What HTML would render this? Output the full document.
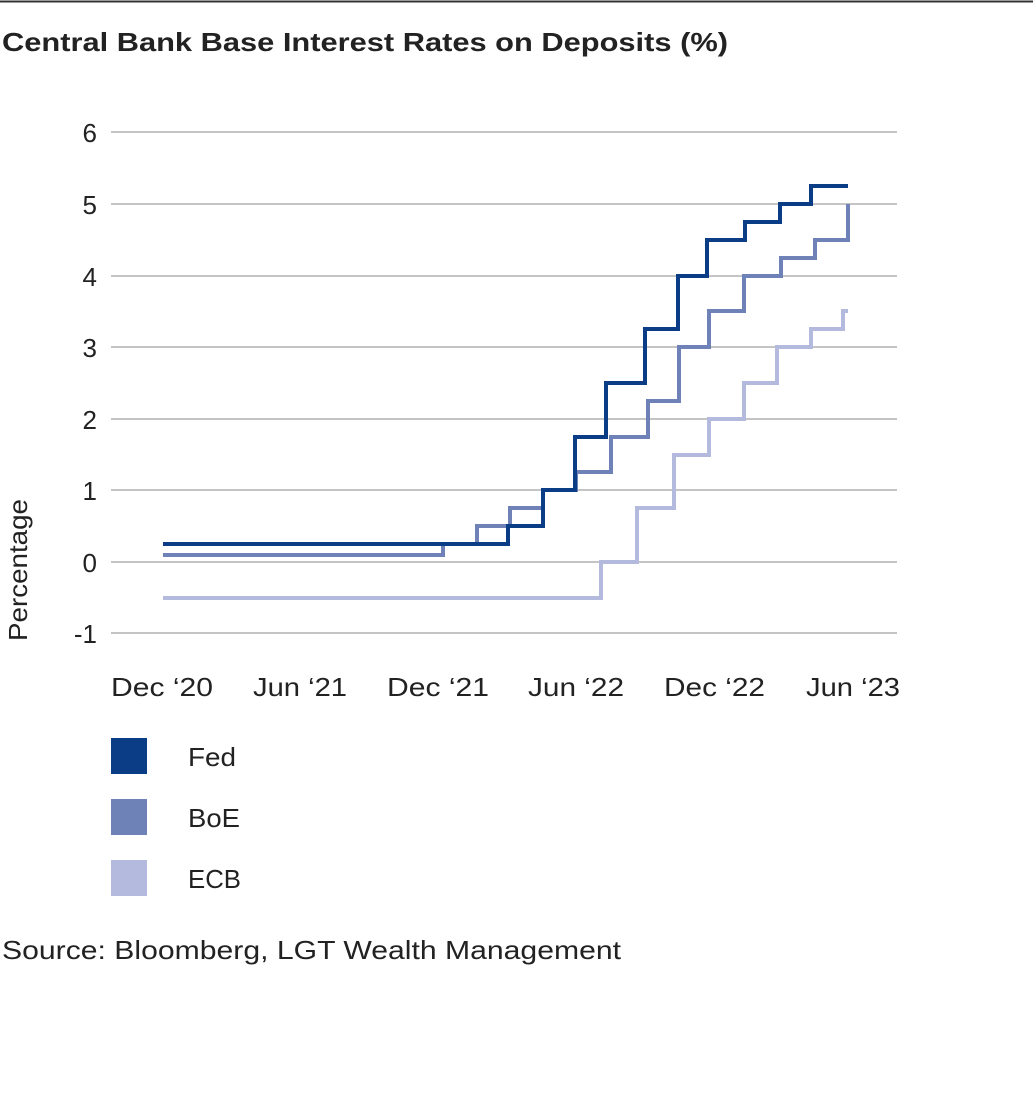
<!DOCTYPE html>
<html><head><style>
body{margin:0;background:#fff;width:1033px;height:1100px;overflow:hidden;font-family:"Liberation Sans",sans-serif}
</style></head><body>
<svg width="1033" height="1100" xmlns="http://www.w3.org/2000/svg" font-family="Liberation Sans, sans-serif">
<line x1="0" y1="1.5" x2="1033" y2="1.5" stroke="#333" stroke-width="2"/>
<text x="2" y="51" font-size="26" font-weight="bold" fill="#222" textLength="726" lengthAdjust="spacingAndGlyphs">Central Bank Base Interest Rates on Deposits (%)</text>
<g stroke="#888" stroke-width="1">
<line x1="111" y1="132" x2="897" y2="132"/><line x1="111" y1="204" x2="897" y2="204"/>
<line x1="111" y1="276" x2="897" y2="276"/><line x1="111" y1="347" x2="897" y2="347"/>
<line x1="111" y1="419" x2="897" y2="419"/><line x1="111" y1="490" x2="897" y2="490"/>
<line x1="111" y1="562" x2="897" y2="562"/><line x1="111" y1="633" x2="897" y2="633"/>
</g>
<g font-size="26" fill="#222" text-anchor="end">
<text x="97" y="142">6</text><text x="97" y="214">5</text><text x="97" y="286">4</text>
<text x="97" y="357">3</text><text x="97" y="429">2</text><text x="97" y="500">1</text>
<text x="97" y="572">0</text><text x="97" y="643">-1</text>
</g>
<g font-size="26" fill="#222" lengthAdjust="spacingAndGlyphs">
<text x="111" y="696" textLength="102" lengthAdjust="spacingAndGlyphs">Dec ‘20</text>
<text x="253" y="696" textLength="94" lengthAdjust="spacingAndGlyphs">Jun ‘21</text>
<text x="387" y="696" textLength="102" lengthAdjust="spacingAndGlyphs">Dec ‘21</text>
<text x="528" y="696" textLength="96" lengthAdjust="spacingAndGlyphs">Jun ‘22</text>
<text x="664" y="696" textLength="101" lengthAdjust="spacingAndGlyphs">Dec ‘22</text>
<text x="806" y="696" textLength="94" lengthAdjust="spacingAndGlyphs">Jun ‘23</text>
</g>
<text transform="translate(27,570) rotate(-90)" font-size="26" fill="#222" text-anchor="middle" textLength="142" lengthAdjust="spacingAndGlyphs">Percentage</text>
<g fill="none" stroke-width="4" stroke-linejoin="miter">
<polyline stroke="#b3bade" points="163,598 601,598 601,562 637,562 637,508 674,508 674,455 709,455 709,419 744,419 744,383 777,383 777,347 811,347 811,329 843,329 843,311 848,311"/>
<polyline stroke="#6f82b8" points="163,555 443,555 443,544 477,544 477,526 510,526 510,508 543,508 543,490 576,490 576,472 611,472 611,437 648,437 648,401 679,401 679,347 709,347 709,311 744,311 744,276 781,276 781,258 815,258 815,240 848,240 848,204"/>
<polyline stroke="#0a3d86" points="163,544 508,544 508,526 543,526 543,490 575,490 575,437 606,437 606,383 645,383 645,329 678,329 678,276 707,276 707,240 745,240 745,222 780,222 780,204 811,204 811,186 848,186"/>
</g>
<rect x="111" y="738" width="36" height="36" fill="#0a3d86"/>
<rect x="111" y="799" width="36" height="36" fill="#6f82b8"/>
<rect x="111" y="860" width="36" height="36" fill="#b3bade"/>
<g font-size="26" fill="#222">
<text x="188" y="766" textLength="48" lengthAdjust="spacingAndGlyphs">Fed</text>
<text x="188" y="827" textLength="52" lengthAdjust="spacingAndGlyphs">BoE</text>
<text x="188" y="888" textLength="53" lengthAdjust="spacingAndGlyphs">ECB</text>
<text x="2" y="959" textLength="619" lengthAdjust="spacingAndGlyphs">Source: Bloomberg, LGT Wealth Management</text>
</g>
</svg>
</body></html>
